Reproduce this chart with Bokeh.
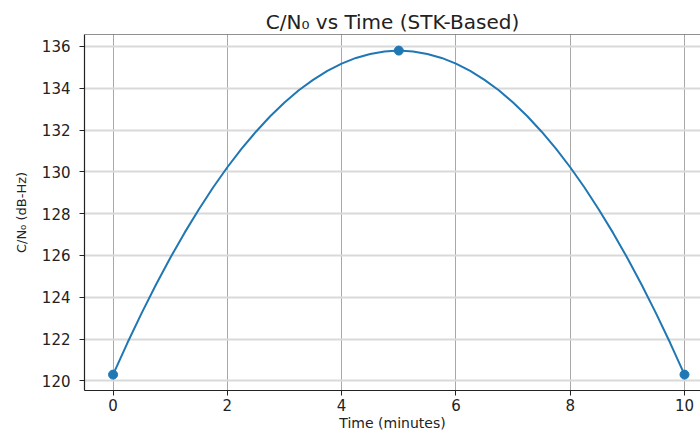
from bokeh.plotting import figure
from bokeh.models import Range1d, Span, FixedTicker
from bokeh.embed import file_html
from bokeh.resources import INLINE

# Curve (minutes, dB-Hz)
time_min = [0, 0.25, 0.5, 0.75, 1, 1.25, 1.5, 1.75, 2, 2.25, 2.5, 2.75, 3, 3.25, 3.5, 3.75,
            4, 4.25, 4.5, 4.75, 5, 5.25, 5.5, 5.75, 6, 6.25, 6.5, 6.75, 7, 7.25, 7.5, 7.75,
            8, 8.25, 8.5, 8.75, 9, 9.25, 9.5, 9.75, 10]
cn0_curve = [120.30, 121.81, 123.24, 124.60, 125.88, 127.08, 128.20, 129.25, 130.22, 131.11,
             131.92, 132.66, 133.32, 133.90, 134.40, 134.83, 135.18, 135.45, 135.64, 135.76,
             135.80,
             135.76, 135.64, 135.45, 135.18, 134.83, 134.40, 133.90, 133.32, 132.66, 131.92,
             131.11, 130.22, 129.25, 128.20, 127.08, 125.88, 124.60, 123.24, 121.81, 120.30]

# STK sample points (markers)
stk_time = [0, 5, 10]
stk_cn0 = [120.3, 135.8, 120.3]

x_ticks = [0, 2, 4, 6, 8, 10]
y_ticks = [120, 122, 124, 126, 128, 130, 132, 134, 136]

Y_TOP = 136.57
FONT = "DejaVu Sans"

p = figure(
    frame_width=616, frame_height=356,
    x_range=Range1d(-0.5, 10.28), y_range=Range1d(119.54, Y_TOP),
    output_backend="svg", toolbar_location=None,
    min_border_left=84, min_border_right=0, min_border_top=34, min_border_bottom=42,
    title="C/N\u2080 vs Time (STK-Based)",
)
p.title.align = "center"
p.title.text_font = FONT
p.title.text_font_size = "20px"
p.title.text_font_style = "normal"
p.title.text_color = "#222222"
p.title.offset = 5
p.title.standoff = 2

p.outline_line_color = None
p.background_fill_color = "white"
p.border_fill_color = "white"

# top spine
p.add_layout(Span(location=Y_TOP, dimension="width", line_color="#222222", line_width=1.2))

p.xaxis.ticker = FixedTicker(ticks=x_ticks)
p.yaxis.ticker = FixedTicker(ticks=y_ticks)
for ax in (p.xaxis[0], p.yaxis[0]):
    ax.axis_line_color = "#222222"
    ax.axis_line_width = 1.2
    ax.major_tick_line_color = "#222222"
    ax.major_tick_out = 5
    ax.major_tick_in = 0
    ax.minor_tick_line_color = None
    ax.major_label_text_font = FONT
    ax.major_label_text_font_size = "15px"
    ax.major_label_text_color = "#222222"
    ax.axis_label_text_font = FONT
    ax.axis_label_text_font_style = "normal"
    ax.axis_label_text_color = "#222222"

p.xaxis.axis_label = "Time (minutes)"
p.xaxis.axis_label_text_font_size = "14px"
p.xaxis.major_label_standoff = 3
p.xaxis.axis_label_standoff = 1

p.yaxis.axis_label = "C/N\u2080 (dB-Hz)"
p.yaxis.axis_label_text_font_size = "13px"
p.yaxis.major_label_standoff = 9
p.yaxis.axis_label_standoff = 10

p.xgrid.grid_line_color = "#a8a8a8"
p.xgrid.grid_line_width = 1
p.ygrid.grid_line_color = "#d9d9d9"
p.ygrid.grid_line_width = 2

p.line(time_min, cn0_curve, line_color="#1f77b4", line_width=2)
p.scatter(stk_time, stk_cn0, size=9, fill_color="#1f77b4", line_color="#1f77b4")

open("out.html", "w").write(file_html(p, INLINE))
